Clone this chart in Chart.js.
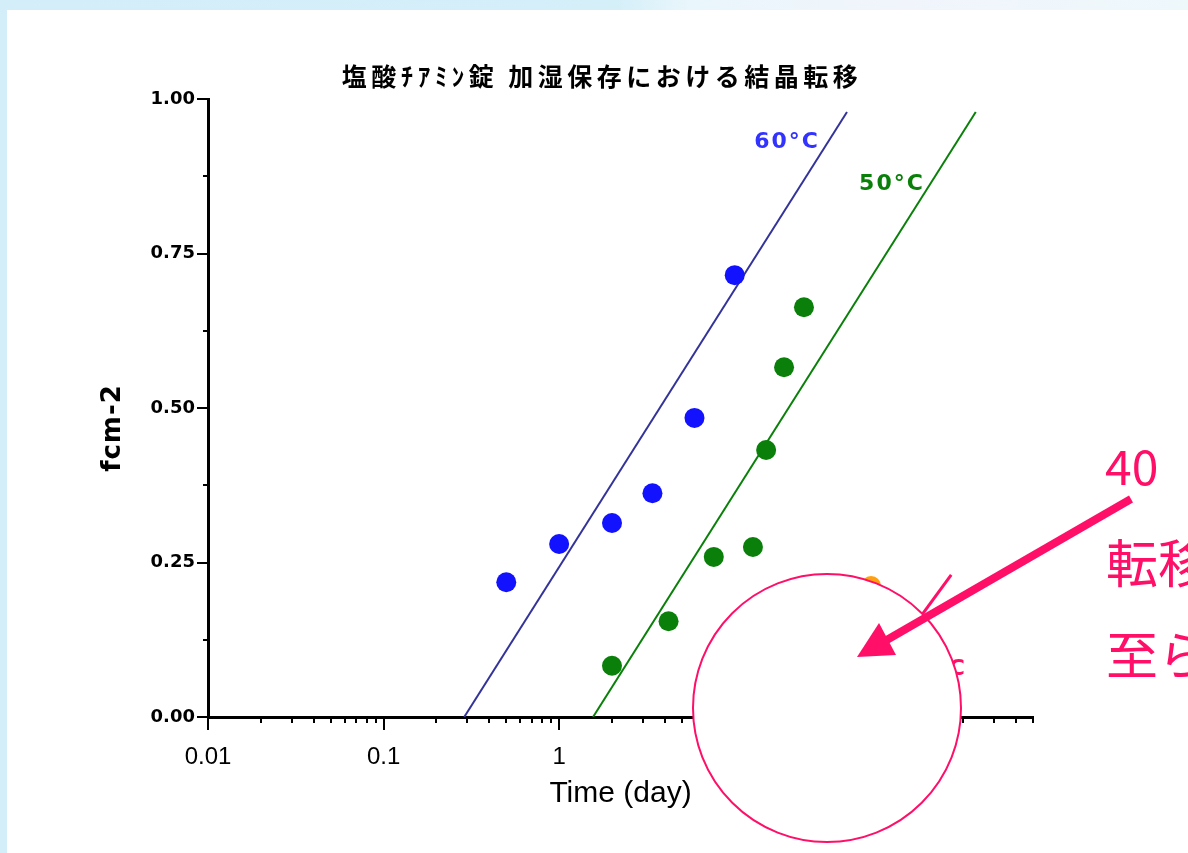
<!DOCTYPE html>
<html>
<head>
<meta charset="utf-8">
<script src="https://cdn.jsdelivr.net/npm/chart.js@4.4.1/dist/chart.umd.min.js"></script>
<style>
  html, body { margin: 0; padding: 0; }
  body {
    width: 1188px; height: 853px; overflow: hidden; position: relative;
    background: linear-gradient(90deg, #d3eef9 0%, #d5eff9 52%, #e9f6fb 58%, #f1f5fb 76%, #eef8fb 100%);
  }
  #sheet { position: absolute; left: 7px; top: 10px; right: 0; bottom: 0; background: #fff; }
  #box { position: absolute; left: 0; top: 0; width: 1188px; height: 853px; }
</style>
</head>
<body>
<div id="sheet"></div>
<div id="box"><canvas id="c"></canvas></div>
<script>
// ---- text ----
const chartTitle = '塩酸ﾁｱﾐﾝ錠 加湿保存における結晶転移';
const xTitle = 'Time (day)';
const yTitle = 'fcm-2';
const xTickValues = [0.01, 0.1, 1, 10, 100];
const yTickValues = [0, 0.25, 0.5, 0.75, 1];

// ---- measured points (time in days, fraction f) ----
const days60 = [0.5, 1, 2, 3.4, 5.9, 10];
const f60    = [0.218, 0.280, 0.314, 0.362, 0.484, 0.715];
const days50 = [2, 4.2, 7.6, 12.7, 15.1, 19.1, 24.8];
const f50    = [0.083, 0.155, 0.259, 0.275, 0.432, 0.566, 0.663];
const days40 = [59.8];
const f40    = [0.212];

// ---- fitted lines, f against log(t) ----
const fitDays60 = [0.288, 43.6];
const fitF60    = [0, 0.979];
const fitDays50 = [1.56, 236];
const fitF50    = [0, 0.979];
const fitDays40 = [43.7, 171];
const fitF40    = [0, 0.23];

// ---- series labels and where they sit (data coordinates) ----
const seriesNames = ['60°C', '50°C', '40°C'];
const labelDays   = [12.9, 51.1, 210];
const labelF      = [0.930, 0.862, 0.078];

const pts = (xs, ys) => xs.map((x, i) => ({ x: x, y: ys[i] }));

const BLUE_LINE = '#333399', BLUE_DOT = '#1212ff', BLUE_TXT = '#3333ff';
const GREEN = '#0a800a';
const PINK = '#ff0f68', ORANGE = '#ffa010';

const overlay = {
  id: 'overlay',
  afterDraw(chart) {
    const ctx = chart.ctx;
    const xs = chart.scales.x, ys = chart.scales.y;
    const a = chart.chartArea;
    const spacing = v => { if ('letterSpacing' in ctx) ctx.letterSpacing = v; };
    ctx.save();

    // title
    ctx.fillStyle = '#000';
    ctx.font = 'bold 25px "Noto Sans CJK JP"';
    ctx.textAlign = 'center';
    ctx.textBaseline = 'alphabetic';
    spacing('4.5px');
    ctx.fillText(chartTitle, 602, 86);

    // y axis title, rotated
    ctx.save();
    ctx.translate(113, 428);
    ctx.rotate(-Math.PI / 2);
    ctx.font = 'bold 26px "DejaVu Sans"';
    ctx.textBaseline = 'middle';
    spacing('1px');
    ctx.fillText(yTitle, 0, 0);
    ctx.restore();
    spacing('0px');

    // axis tick marks
    ctx.strokeStyle = '#000';
    ctx.lineWidth = 2;
    ctx.beginPath();
    xTickValues.forEach(v => {
      const px = Math.round(xs.getPixelForValue(v));
      ctx.moveTo(px, a.bottom); ctx.lineTo(px, a.bottom + 13);
      for (let m = 2; m <= 9; m++) {
        const mv = v * m;
        if (mv > xs.max + 1e-9) break;
        const mp = Math.round(xs.getPixelForValue(mv));
        ctx.moveTo(mp, a.bottom); ctx.lineTo(mp, a.bottom + 6);
      }
    });
    yTickValues.forEach((v, i) => {
      const py = Math.round(ys.getPixelForValue(v));
      ctx.moveTo(a.left - 11, py); ctx.lineTo(a.left, py);
      if (i < yTickValues.length - 1) {
        const mp = Math.round(ys.getPixelForValue(v + 0.125));
        ctx.moveTo(a.left - 5, mp); ctx.lineTo(a.left, mp);
      }
    });
    ctx.stroke();

    // series labels
    const labelColors = [BLUE_TXT, GREEN, PINK];
    const labelAlign = ['left', 'left', 'right'];
    ctx.font = 'bold 22px "DejaVu Sans"';
    ctx.textBaseline = 'middle';
    spacing('2px');
    seriesNames.forEach((s, i) => {
      ctx.fillStyle = labelColors[i];
      ctx.textAlign = labelAlign[i];
      ctx.fillText(s, xs.getPixelForValue(labelDays[i]), ys.getPixelForValue(labelF[i]));
    });
    spacing('0px');

    // highlight circle
    ctx.beginPath();
    ctx.arc(827, 708, 134, 0, Math.PI * 2);
    ctx.fillStyle = '#fff';
    ctx.fill();
    ctx.lineWidth = 2;
    ctx.strokeStyle = PINK;
    ctx.stroke();

    // arrow
    ctx.strokeStyle = PINK;
    ctx.fillStyle = PINK;
    ctx.lineWidth = 8;
    ctx.lineCap = 'butt';
    ctx.beginPath();
    ctx.moveTo(1131, 499);
    ctx.lineTo(885, 641);
    ctx.stroke();
    ctx.beginPath();
    ctx.moveTo(857, 657);
    ctx.lineTo(879, 623);
    ctx.lineTo(896, 655);
    ctx.closePath();
    ctx.fill();

    // note text
    ctx.textAlign = 'left';
    ctx.textBaseline = 'alphabetic';
    ctx.font = '48px "Noto Sans CJK JP"';
    ctx.fillText('40', 1105, 485);
    ctx.font = '52px "Noto Sans CJK JP"';
    ctx.fillText('転移', 1106, 583);
    ctx.fillText('至ら', 1106, 675);

    ctx.restore();
  }
};

new Chart(document.getElementById('c'), {
  type: 'scatter',
  data: {
    datasets: [
      { data: pts(days60, f60), backgroundColor: BLUE_DOT, borderWidth: 0, pointRadius: 10, pointHoverRadius: 10 },
      { data: pts(days50, f50), backgroundColor: GREEN, borderWidth: 0, pointRadius: 10, pointHoverRadius: 10 },
      { data: pts(days40, f40), backgroundColor: ORANGE, borderWidth: 0, pointRadius: 10, pointHoverRadius: 10 },
      { data: pts(fitDays60, fitF60), showLine: true, borderColor: BLUE_LINE, borderWidth: 2, pointRadius: 0 },
      { data: pts(fitDays50, fitF50), showLine: true, borderColor: GREEN, borderWidth: 2, pointRadius: 0 },
      { data: pts(fitDays40, fitF40), showLine: true, borderColor: PINK, borderWidth: 3, pointRadius: 0 }
    ]
  },
  options: {
    responsive: true,
    maintainAspectRatio: false,
    animation: false,
    events: [],
    layout: { padding: { left: 99, right: 155, top: 99, bottom: 41 } },
    plugins: { legend: { display: false }, tooltip: { enabled: false }, title: { display: false } },
    scales: {
      x: {
        type: 'logarithmic', min: 0.01, max: 500,
        afterBuildTicks: s => { s.ticks = xTickValues.map(v => ({ value: v })); },
        afterFit: s => { s.height = 95; },
        grid: { display: false },
        border: { display: true, color: '#000', width: 3 },
        ticks: {
          color: '#000', padding: 18, autoSkip: false, maxRotation: 0,
          font: { family: 'Liberation Sans', size: 24 },
          callback: v => String(v)
        },
        title: { display: true, text: xTitle, color: '#000', padding: 0,
                 font: { family: 'Liberation Sans', size: 30 } }
      },
      y: {
        min: 0, max: 1,
        afterBuildTicks: s => { s.ticks = yTickValues.map(v => ({ value: v })); },
        afterFit: s => { s.width = 109; },
        grid: { display: false },
        border: { display: true, color: '#000', width: 3 },
        ticks: {
          color: '#000', padding: 5,
          font: { family: 'DejaVu Sans', size: 18, weight: 'bold' },
          callback: v => Number(v).toFixed(2)
        },
        title: { display: false }
      }
    }
  },
  plugins: [overlay]
});
</script>
</body>
</html>
